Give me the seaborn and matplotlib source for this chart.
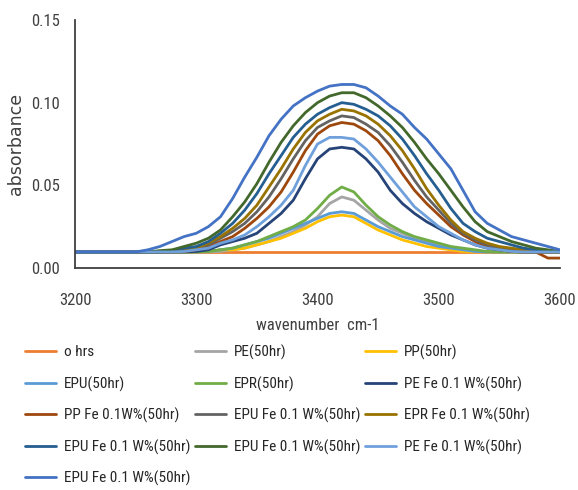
import matplotlib
matplotlib.use("Agg")
import matplotlib.pyplot as plt
from matplotlib import font_manager
import seaborn as sns
import pandas as pd

# ---------------- data ----------------
wavenumber = [3200, 3250, 3260, 3270, 3280, 3290, 3300, 3310, 3320, 3330, 3340,
              3350, 3360, 3370, 3380, 3390, 3400, 3410, 3420, 3430, 3440, 3450,
              3460, 3470, 3480, 3490, 3500, 3510, 3520, 3530, 3540, 3550, 3560,
              3570, 3580, 3590, 3600]

s_0hrs = [0.0097] * 37
s_pe = [0.0097, 0.0097, 0.0097, 0.0097, 0.0097, 0.0097, 0.0097, 0.0097, 0.010, 0.011, 0.012,
        0.014, 0.016, 0.019, 0.022, 0.026, 0.031, 0.039, 0.043, 0.041, 0.035, 0.029,
        0.024, 0.021, 0.018, 0.016, 0.014, 0.012, 0.011, 0.010, 0.0097, 0.0097, 0.0097,
        0.0097, 0.0097, 0.0097, 0.0097]
s_pp = [0.0097, 0.0097, 0.0097, 0.0097, 0.0097, 0.0097, 0.0097, 0.010, 0.011, 0.011, 0.012,
        0.014, 0.016, 0.018, 0.021, 0.024, 0.028, 0.031, 0.032, 0.031, 0.027, 0.023,
        0.020, 0.017, 0.015, 0.013, 0.012, 0.011, 0.010, 0.0097, 0.0097, 0.0097, 0.0097,
        0.0097, 0.0097, 0.0097, 0.0097]
s_epu = [0.0097, 0.0097, 0.0097, 0.0097, 0.0097, 0.0097, 0.0097, 0.010, 0.011, 0.012, 0.014,
         0.016, 0.018, 0.021, 0.024, 0.027, 0.030, 0.033, 0.034, 0.033, 0.029, 0.025,
         0.022, 0.019, 0.017, 0.015, 0.013, 0.012, 0.011, 0.010, 0.0097, 0.0097, 0.0097,
         0.0097, 0.0097, 0.0097, 0.0097]
s_epr = [0.0097, 0.0097, 0.0097, 0.0097, 0.0097, 0.0097, 0.0097, 0.010, 0.011, 0.012, 0.014,
         0.016, 0.019, 0.022, 0.025, 0.029, 0.036, 0.044, 0.049, 0.046, 0.038, 0.031,
         0.026, 0.022, 0.019, 0.017, 0.015, 0.013, 0.012, 0.011, 0.010, 0.0097, 0.0097,
         0.0097, 0.0097, 0.0097, 0.0097]
s_pe_fe = [0.0097, 0.0097, 0.0097, 0.0097, 0.0097, 0.0097, 0.010, 0.011, 0.014, 0.016, 0.018,
           0.021, 0.027, 0.033, 0.041, 0.054, 0.066, 0.072, 0.073, 0.072, 0.066, 0.058,
           0.047, 0.039, 0.033, 0.028, 0.024, 0.020, 0.017, 0.014, 0.012, 0.011, 0.010,
           0.0097, 0.0097, 0.0097, 0.0097]
s_pp_fe = [0.0097, 0.0097, 0.0097, 0.0097, 0.0097, 0.010, 0.011, 0.013, 0.016, 0.019, 0.024,
           0.030, 0.037, 0.046, 0.058, 0.071, 0.081, 0.086, 0.088, 0.087, 0.083, 0.077,
           0.068, 0.057, 0.047, 0.039, 0.032, 0.025, 0.020, 0.016, 0.013, 0.011, 0.010,
           0.0097, 0.0097, 0.006, 0.006]
s_epu_fe1 = [0.0097, 0.0097, 0.0097, 0.0097, 0.0097, 0.0105, 0.012, 0.014, 0.018, 0.022, 0.027,
             0.034, 0.043, 0.054, 0.066, 0.077, 0.085, 0.089, 0.092, 0.091, 0.087, 0.082,
             0.074, 0.064, 0.053, 0.043, 0.035, 0.027, 0.021, 0.017, 0.014, 0.012, 0.011,
             0.010, 0.0097, 0.0097, 0.0097]
s_epr_fe = [0.0097, 0.0097, 0.0097, 0.0097, 0.010, 0.011, 0.012, 0.015, 0.019, 0.024, 0.030,
            0.038, 0.049, 0.060, 0.072, 0.082, 0.089, 0.093, 0.096, 0.095, 0.092, 0.087,
            0.080, 0.071, 0.060, 0.048, 0.038, 0.029, 0.022, 0.018, 0.015, 0.013, 0.012,
            0.011, 0.010, 0.0097, 0.0097]
s_epu_fe2 = [0.0097, 0.0097, 0.0097, 0.0097, 0.0105, 0.012, 0.013, 0.016, 0.021, 0.027, 0.035,
             0.045, 0.057, 0.068, 0.079, 0.087, 0.093, 0.097, 0.100, 0.099, 0.096, 0.092,
             0.086, 0.078, 0.068, 0.057, 0.047, 0.036, 0.027, 0.022, 0.018, 0.016, 0.014,
             0.012, 0.011, 0.010, 0.010]
s_epu_fe3 = [0.0097, 0.0097, 0.0097, 0.0105, 0.011, 0.013, 0.015, 0.018, 0.023, 0.031, 0.040,
             0.051, 0.064, 0.076, 0.086, 0.094, 0.100, 0.104, 0.106, 0.106, 0.103, 0.098,
             0.092, 0.085, 0.076, 0.066, 0.057, 0.047, 0.037, 0.028, 0.022, 0.019, 0.016,
             0.014, 0.012, 0.011, 0.010]
s_pe_fe2 = [0.0097, 0.0097, 0.0097, 0.0097, 0.0097, 0.010, 0.011, 0.012, 0.015, 0.017, 0.020,
            0.025, 0.031, 0.038, 0.047, 0.062, 0.075, 0.079, 0.079, 0.078, 0.072, 0.064,
            0.055, 0.046, 0.037, 0.031, 0.025, 0.021, 0.017, 0.014, 0.012, 0.011, 0.010,
            0.0097, 0.0097, 0.0097, 0.0097]
s_epu_fe4 = [0.0097, 0.0097, 0.011, 0.013, 0.016, 0.019, 0.021, 0.025, 0.031, 0.042, 0.055,
             0.067, 0.080, 0.090, 0.098, 0.103, 0.107, 0.110, 0.111, 0.111, 0.109, 0.104,
             0.098, 0.093, 0.085, 0.078, 0.069, 0.060, 0.047, 0.034, 0.027, 0.023, 0.019,
             0.017, 0.015, 0.013, 0.011]

series_labels = ["o hrs", "PE(50hr)", "PP(50hr)", "EPU(50hr)", "EPR(50hr)",
                 "PE Fe 0.1 W%(50hr)", "PP Fe 0.1W%(50hr)", "EPU Fe 0.1 W%(50hr)",
                 "EPR Fe 0.1 W%(50hr)", "EPU Fe 0.1 W%(50hr)", "EPU Fe 0.1 W%(50hr)",
                 "PE Fe 0.1 W%(50hr)", "EPU Fe 0.1 W%(50hr)"]
series_values = [s_0hrs, s_pe, s_pp, s_epu, s_epr, s_pe_fe, s_pp_fe, s_epu_fe1,
                 s_epr_fe, s_epu_fe2, s_epu_fe3, s_pe_fe2, s_epu_fe4]
series_colors = ["#ED7D31", "#A5A5A5", "#FFC000", "#5B9BD5", "#70AD47", "#264478",
                 "#9E480E", "#636363", "#997300", "#255E91", "#43682B", "#6FA0DC",
                 "#4472C4"]

x_ticks = [3200, 3300, 3400, 3500, 3600]
y_ticks = [0.00, 0.05, 0.10, 0.15]
y_tick_labels = ["0.00", "0.05", "0.10", "0.15"]

# ---------------- font choice: prefer a narrow sans if installed ----------------
sns.set_style("white")
narrow_path = None
prefs = ["Liberation Sans Narrow", "Roboto Condensed", "Open Sans Condensed",
         "Noto Sans Condensed", "DejaVu Sans Condensed"]
for pref in prefs:
    for f in font_manager.fontManager.ttflist:
        if (f.name == pref or pref.replace(" ", "") in f.fname.replace("-", "").replace("_", "")) \
                and f.weight in (400, "normal", "regular") and f.style == "normal":
            narrow_path = f.fname
            break
    if narrow_path:
        break

plt.rcParams["font.family"] = ["DejaVu Sans"]
text_color = "#404040"
legend_color = "#262626"


def fp(size):
    if narrow_path:
        return font_manager.FontProperties(fname=narrow_path, size=size)
    return font_manager.FontProperties(family=["Liberation Sans", "DejaVu Sans"], size=size * 0.82)


W, H = 578, 490
fig = plt.figure(figsize=(W / 100, H / 100), dpi=100)
ax = fig.add_axes([75 / W, 1 - 268 / H, (560 - 75) / W, (268 - 20) / H])

handles = []
for lab, vals, col in zip(series_labels, series_values, series_colors):
    df = pd.DataFrame({"wavenumber": wavenumber, "absorbance": vals})
    sns.lineplot(data=df, x="wavenumber", y="absorbance", color=col, linewidth=2.0,
                 ax=ax, legend=False)
    handles.append(ax.lines[-1])

ax.set_xlim(3200, 3600)
ax.set_ylim(0, 0.15)
ax.set_xticks(x_ticks)
ax.set_xticklabels([str(t) for t in x_ticks], fontproperties=fp(12))
ax.set_yticks(y_ticks)
ax.set_yticklabels(y_tick_labels, fontproperties=fp(12))
ax.tick_params(axis="both", length=0, colors=text_color)
ax.tick_params(axis="x", pad=18)
ax.tick_params(axis="y", pad=11)

for s in ["top", "right"]:
    ax.spines[s].set_visible(False)
for s in ["left", "bottom"]:
    ax.spines[s].set_color("#404040")
    ax.spines[s].set_linewidth(1.3)

ax.set_xlabel("wavenumber  cm-1", fontproperties=fp(12), color=text_color)
ax.set_ylabel("absorbance", fontproperties=font_manager.FontProperties(
    family=["DejaVu Sans"], size=12.5), color=text_color)
ax.xaxis.set_label_coords(0.5, -0.2)
ax.yaxis.set_label_coords(-0.104, 0.5)

# legend: row-major grid, three columns, one entry per position
col_x = [25, 195, 365]
row_y = [352, 384, 415, 447, 478]
for i, (h, lab) in enumerate(zip(handles, series_labels)):
    r, c = divmod(i, 3)
    fig.legend([h], [lab], loc="center left",
               bbox_to_anchor=(col_x[c] / W, 1 - row_y[r] / H),
               frameon=False, prop=fp(11), handlelength=2.0, handletextpad=0.55,
               borderpad=0, borderaxespad=0, labelcolor=legend_color)

fig.savefig("out.png", dpi=100)
